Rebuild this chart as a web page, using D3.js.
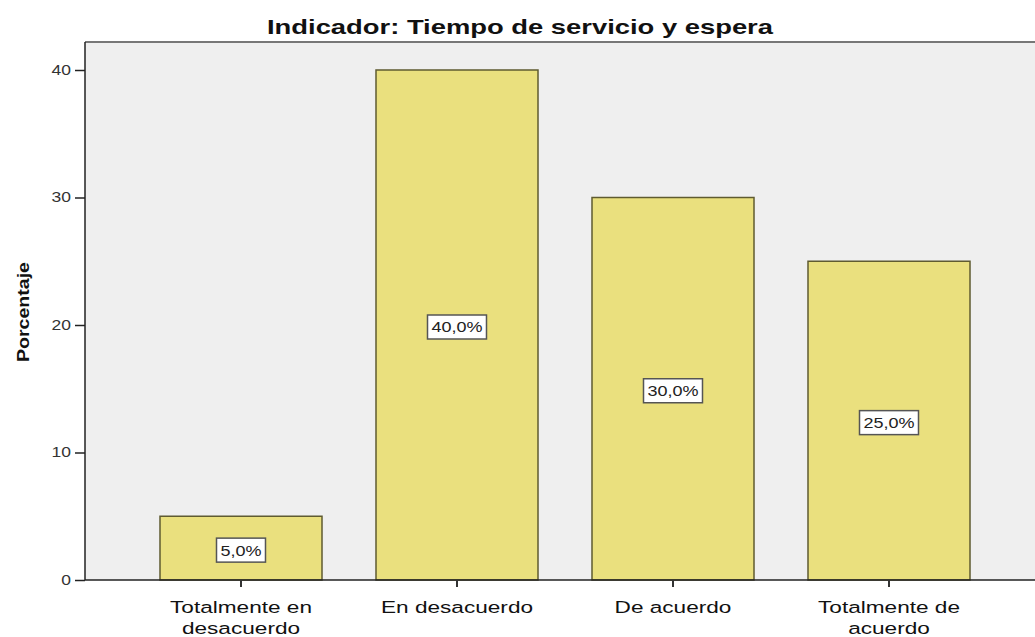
<!DOCTYPE html>
<html><head><meta charset="utf-8">
<script src="https://cdn.jsdelivr.net/npm/d3@7/dist/d3.min.js"></script>
<style>body{margin:0;background:#fff}svg{display:block;font-family:Arial,"Liberation Sans",sans-serif}</style>
</head><body><svg id="c" width="1035" height="637"></svg>
<script>
const categories = [["Totalmente en","desacuerdo"],["En desacuerdo"],["De acuerdo"],["Totalmente de","acuerdo"]];
const values = [5, 40, 30, 25];
const valueLabels = ["5,0%","40,0%","30,0%","25,0%"];
const yTicks = [0, 10, 20, 30, 40];
const title = "Indicador: Tiempo de servicio y espera";
const yTitle = "Porcentaje";

const svg = d3.select("#c");
const pLeft = 85, pRight = 1035, pTop = 42, pBottom = 580;
const keys = categories.map((c,i)=>i);
const x = d3.scaleBand().domain(keys).range([133, 997]).paddingInner(0.25).paddingOuter(0.125);
const y = d3.scaleLinear().domain([0, 40]).range([pBottom, 70]);

svg.append("rect").attr("x", pLeft).attr("y", pTop).attr("width", pRight-pLeft).attr("height", pBottom-pTop).attr("fill", "#efefef");
svg.append("line").attr("x1", pLeft).attr("x2", pRight).attr("y1", pTop).attr("y2", pTop).attr("stroke", "#777").attr("stroke-width", 2);

svg.append("text").attr("x", 520).attr("y", 34).attr("text-anchor", "middle")
  .attr("font-size", 21).attr("font-weight", "bold").attr("fill", "#111")
  .attr("textLength", 506).attr("lengthAdjust", "spacingAndGlyphs").text(title);

svg.append("text").attr("transform", `translate(29,312) rotate(-90)`).attr("text-anchor", "middle")
  .attr("font-size", 16).attr("font-weight", "bold").attr("fill", "#111")
  .attr("textLength", 100).attr("lengthAdjust", "spacingAndGlyphs").text(yTitle);

// bars
svg.selectAll("rect.bar").data(values).join("rect").attr("class","bar")
  .attr("x", (d,i)=>x(i)).attr("width", x.bandwidth())
  .attr("y", d=>y(d)).attr("height", d=>y(0)-y(d))
  .attr("fill", "#eae07e").attr("stroke", "#5f5b30").attr("stroke-width", 1.5);

// y axis
const ya = svg.append("g").attr("transform", `translate(${pLeft},0)`)
  .call(d3.axisLeft(y).tickValues(yTicks).tickSize(10).tickPadding(0));
ya.select(".domain").attr("d", `M0,${pTop}V${pBottom}`).attr("stroke", "#222").attr("stroke-width", 1.5);
ya.selectAll(".tick line").attr("stroke", "#222").attr("stroke-width", 1.5);
ya.selectAll(".tick text").attr("x", 0).attr("font-size", 14).attr("fill", "#333")
  .attr("font-family", "Arial, Liberation Sans, sans-serif")
  .attr("transform", "translate(-14,0) scale(1.25,1)");

// x axis
const xa = svg.append("g").attr("transform", `translate(0,${pBottom})`)
  .call(d3.axisBottom(x).tickSize(7).tickFormat(""));
xa.select(".domain").attr("d", `M${pLeft},0H${pRight}`).attr("stroke", "#222").attr("stroke-width", 1.5);
xa.selectAll(".tick line").attr("stroke", "#333").attr("stroke-width", 2);
xa.selectAll(".tick").each(function(d){
  const g = d3.select(this);
  const t = g.append("text").attr("text-anchor", "middle").attr("fill", "#111")
    .attr("font-size", 17).attr("font-family", "Arial, Liberation Sans, sans-serif");
  categories[d].forEach((line, j) => {
    t.append("tspan").attr("x", 0).attr("y", 33 + j*21).text(line);
  });
  t.attr("transform", "scale(1.33,1)");
});

// value labels
const lg = svg.selectAll("g.vl").data(values).join("g").attr("class","vl")
  .attr("transform", (d,i)=>`translate(${x(i)+x.bandwidth()/2},${y(d/2)+2})`);
lg.each(function(d,i){
  const g = d3.select(this);
  const t = g.append("text").attr("text-anchor","middle").attr("dy","0.36em")
    .attr("font-size", 15).attr("fill","#222").attr("transform","scale(1.2,1)").text(valueLabels[i]);
  const w = t.node().getComputedTextLength()*1.2 + 8;
  g.insert("rect","text").attr("x", -w/2).attr("y", -12).attr("width", w).attr("height", 24)
    .attr("fill", "#fff").attr("stroke", "#555").attr("stroke-width", 1.5);
});
</script></body></html>
